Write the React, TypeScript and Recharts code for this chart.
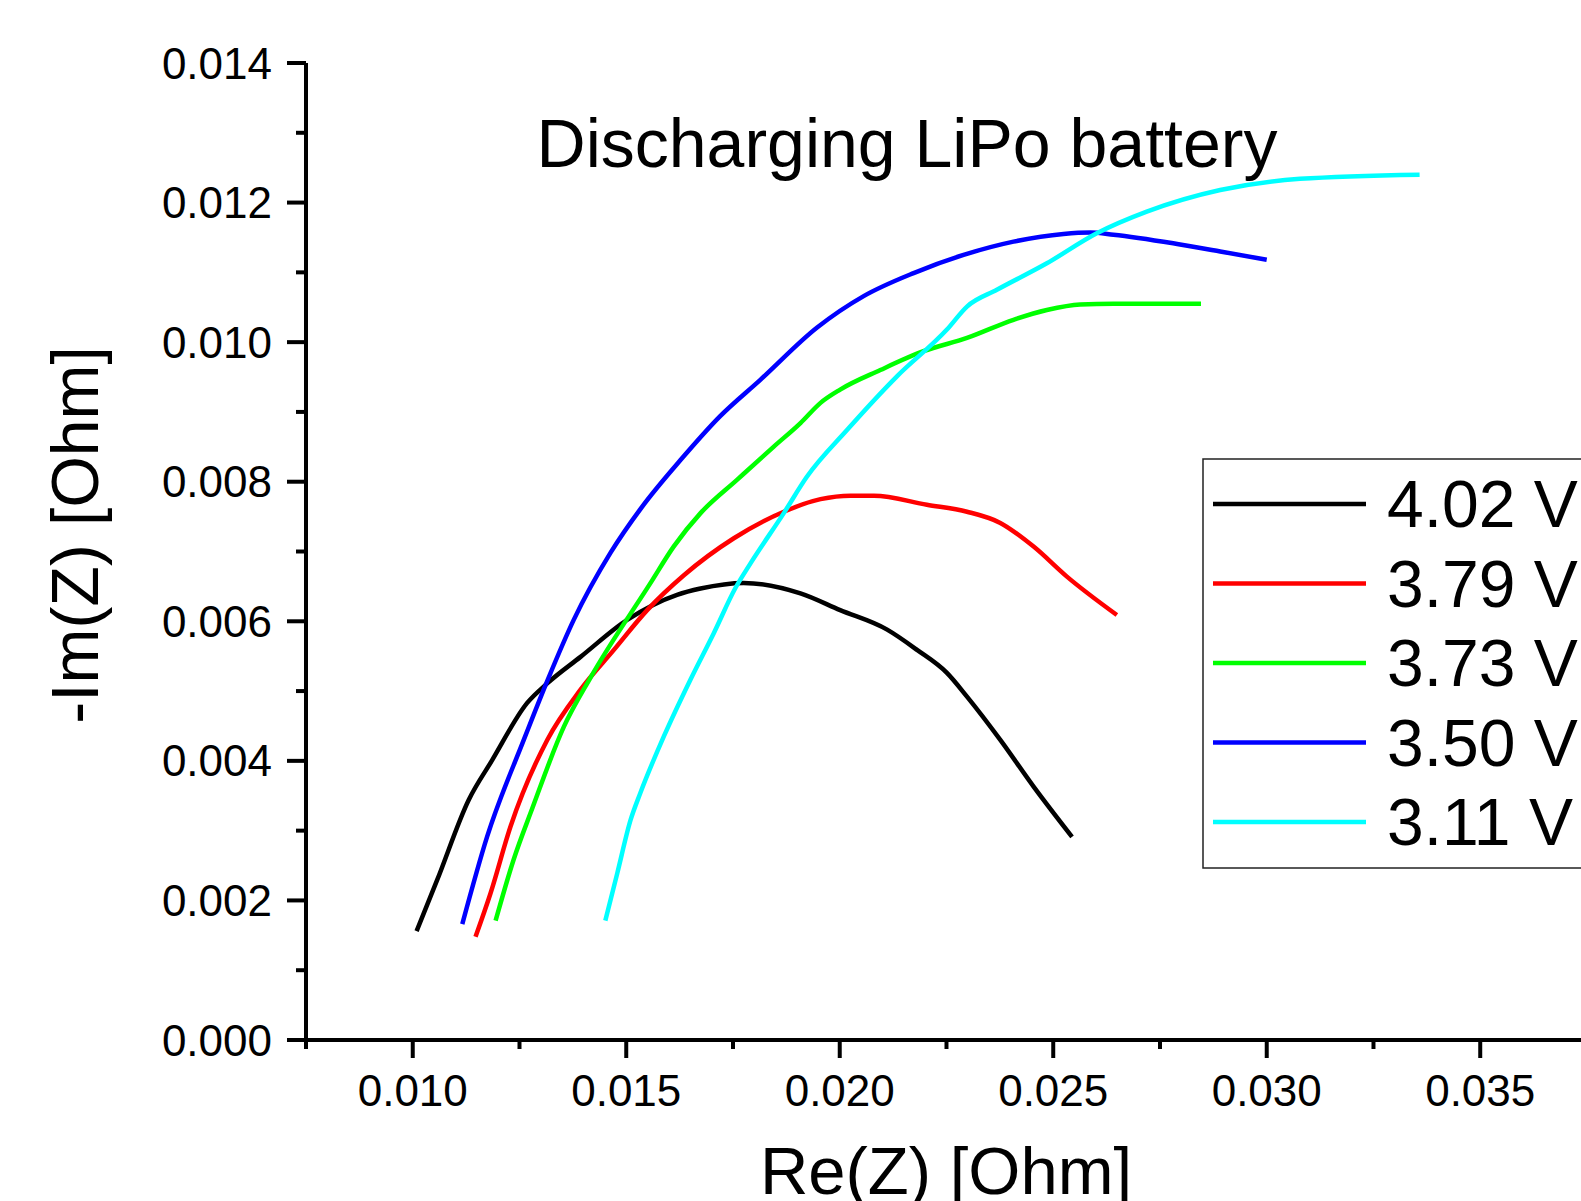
import React from 'react';
import { LineChart, Line, XAxis, YAxis } from 'recharts';

// Re(Z), -Im(Z) in Ohm
const v402 = [[0.01009,0.00156],[0.01057,0.00229],[0.01131,0.00344],[0.01186,0.00401],[0.01268,0.00483],[0.01315,0.00511],[0.01393,0.00549],[0.01502,0.00602],[0.01619,0.00638],[0.01674,0.00647],[0.01775,0.00655],[0.01908,0.0064],[0.02001,0.00616],[0.02111,0.00588],[0.02181,0.00559],[0.02251,0.00526],[0.02298,0.00492],[0.02376,0.0043],[0.02454,0.00363],[0.02544,0.00291]];
const v379 = [[0.01147,0.00148],[0.01182,0.0021],[0.01229,0.00306],[0.01315,0.0043],[0.01393,0.00502],[0.01471,0.00559],[0.01549,0.00616],[0.01635,0.00666],[0.01752,0.00719],[0.01869,0.00757],[0.01955,0.00775],[0.02025,0.0078],[0.0208,0.0078],[0.02204,0.00767],[0.02298,0.00757],[0.02376,0.00741],[0.02454,0.00707],[0.02532,0.00664],[0.02649,0.00609]];
const v373 = [[0.01194,0.00171],[0.01236,0.00258],[0.0128,0.00332],[0.01354,0.00449],[0.01416,0.00519],[0.01557,0.00655],[0.01611,0.00707],[0.01674,0.00755],[0.0176,0.00803],[0.01845,0.0085],[0.01908,0.00884],[0.01955,0.00913],[0.02001,0.00932],[0.02095,0.0096],[0.02196,0.00987],[0.02298,0.01006],[0.02407,0.01032],[0.02485,0.01046],[0.02563,0.01054],[0.02641,0.01055],[0.02846,0.01055]];
const v350 = [[0.01116,0.00166],[0.01174,0.00291],[0.0126,0.0043],[0.01318,0.00519],[0.01377,0.00602],[0.01463,0.00698],[0.01537,0.00764],[0.01627,0.00831],[0.0172,0.00894],[0.01814,0.00946],[0.01947,0.01021],[0.02056,0.01066],[0.02173,0.01099],[0.0229,0.01125],[0.02407,0.01144],[0.02524,0.01155],[0.02587,0.01157],[0.02641,0.01154],[0.02797,0.0114],[0.02891,0.0113],[0.030,0.01118]];
const v311 = [[0.01451,0.00171],[0.01479,0.00239],[0.0151,0.00315],[0.01533,0.00354],[0.01588,0.00435],[0.0165,0.00516],[0.01705,0.00583],[0.01756,0.00648],[0.01791,0.00683],[0.01869,0.00755],[0.01923,0.00807],[0.02017,0.00874],[0.02134,0.00951],[0.02251,0.01018],[0.02298,0.01051],[0.02368,0.01075],[0.02485,0.01113],[0.02602,0.01156],[0.02719,0.01187],[0.02891,0.01218],[0.03078,0.01234],[0.03358,0.0124]];

const labels = ['4.02 V', '3.79 V', '3.73 V', '3.50 V', '3.11 V'];
const colors = ['#000000', '#ff0000', '#00ff00', '#0000ff', '#00ffff'];
const raw = [v402, v379, v373, v350, v311];

const xTicks = [0.0075, 0.01, 0.0125, 0.015, 0.0175, 0.02, 0.0225, 0.025, 0.0275, 0.03, 0.0325, 0.035];
const yTicks = [0, 0.001, 0.002, 0.003, 0.004, 0.005, 0.006, 0.007, 0.008, 0.009, 0.01, 0.011, 0.012, 0.013, 0.014];

const FONT = '"Liberation Sans", Arial, sans-serif';

const series = raw.map(s => s.map(([x, y]) => ({ x, y })));

const XTick = (p: any) => {
  const v = p.payload.value;
  const major = Math.round(v * 10000) % 50 === 0;
  return (
    <g>
      <line x1={p.x} x2={p.x} y1={p.y} y2={p.y + (major ? 18 : 9)} stroke="#000" strokeWidth={4} />
      {major && <text x={p.x} y={p.y + 66} textAnchor="middle" fontSize={44} fontFamily={FONT} fill="#000">{v.toFixed(3)}</text>}
    </g>
  );
};

const YTick = (p: any) => {
  const v = p.payload.value;
  const major = Math.round(v * 1000) % 2 === 0;
  return (
    <g>
      <line x1={p.x} x2={p.x - (major ? 19 : 10)} y1={p.y} y2={p.y} stroke="#000" strokeWidth={4} />
      {major && <text x={p.x - 34} y={p.y + 15.5} textAnchor="end" fontSize={44} fontFamily={FONT} fill="#000">{v.toFixed(3)}</text>}
    </g>
  );
};

export default function App() {
  return (
    <div style={{ position: 'absolute', left: 0, top: 0, width: 1581, height: 1201, overflow: 'hidden', background: '#fff' }}>
      <LineChart width={1581} height={1201} margin={{ top: 63, right: 0, bottom: 101, left: 246 }}>
        <XAxis type="number" dataKey="x" domain={[0.0075, 0.03736]} ticks={xTicks} interval={0} allowDataOverflow
          height={60} tickSize={0} tickMargin={0} tickLine={false} tick={XTick}
          axisLine={{ stroke: '#000', strokeWidth: 4 }} />
        <YAxis type="number" dataKey="y" domain={[0, 0.014]} ticks={yTicks} interval={0} allowDataOverflow
          width={60} tickSize={0} tickMargin={0} tickLine={false} tick={YTick}
          axisLine={{ stroke: '#000', strokeWidth: 4 }} />
        {series.map((d, i) => (
          <Line key={labels[i]} data={d} dataKey="y" type="monotone" stroke={colors[i]} strokeWidth={4.5}
            dot={false} activeDot={false} isAnimationActive={false} />
        ))}
      </LineChart>
      <svg width={1581} height={1201} style={{ position: 'absolute', left: 0, top: 0, pointerEvents: 'none' }}>
        <text x={907} y={167} textAnchor="middle" fontSize={68} fontFamily={FONT}>Discharging LiPo battery</text>
        <text x={946} y={1194} textAnchor="middle" fontSize={67} fontFamily={FONT}>Re(Z) [Ohm]</text>
        <text x={98} y={535} transform="rotate(-90 98 535)" textAnchor="middle" fontSize={66} fontFamily={FONT}>-Im(Z) [Ohm]</text>
        <rect x={1203} y={459} width={500} height={409} fill="#fff" stroke="#222" strokeWidth={1.5} />
        {labels.map((l, i) => (
          <g key={l}>
            <line x1={1213} x2={1366} y1={504 + i * 79.5} y2={504 + i * 79.5} stroke={colors[i]} strokeWidth={4.5} />
            <text x={1387} y={527 + i * 79.5} fontSize={66} fontFamily={FONT}>{l}</text>
          </g>
        ))}
      </svg>
    </div>
  );
}
